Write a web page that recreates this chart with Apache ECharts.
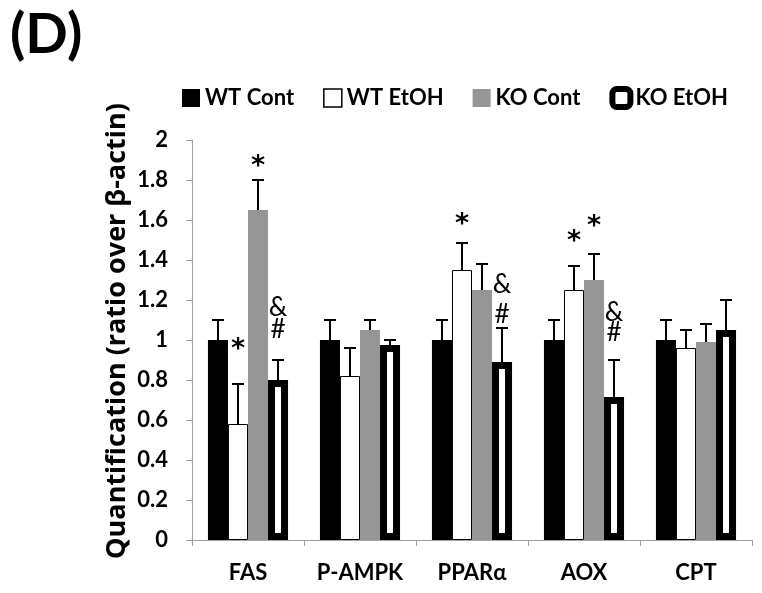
<!DOCTYPE html>
<html>
<head>
<meta charset="utf-8">
<script src="https://cdn.jsdelivr.net/npm/echarts@6/dist/echarts.min.js"></script>
<style>html,body{margin:0;padding:0;background:#fff}#c{width:762px;height:593px}</style>
</head>
<body>
<div id="c"></div>
<script>
const categories = ['FAS', 'P-AMPK', 'PPARα', 'AOX', 'CPT'];
const seriesNames = ['WT Cont', 'WT EtOH', 'KO Cont', 'KO EtOH'];
const wtCont = [1.0, 1.0, 1.0, 1.0, 1.0];
const wtContErr = [0.10, 0.10, 0.10, 0.10, 0.10];
const wtEtoh = [0.58, 0.82, 1.35, 1.25, 0.96];
const wtEtohErr = [0.20, 0.14, 0.135, 0.12, 0.09];
const koCont = [1.65, 1.05, 1.25, 1.30, 0.99];
const koContErr = [0.15, 0.05, 0.13, 0.13, 0.09];
const koEtoh = [0.80, 0.975, 0.89, 0.715, 1.05];
const koEtohErr = [0.10, 0.025, 0.17, 0.185, 0.15];
const yTicks = [0, 0.2, 0.4, 0.6, 0.8, 1, 1.2, 1.4, 1.6, 1.8, 2];
// annotations: [category index, series index, y value, mark]
const annCat = [0, 0, 0, 0, 2, 2, 2, 3, 3, 3, 3];
const annSer = [1, 2, 3, 3, 1, 3, 3, 1, 2, 3, 3];
const annY = [0.985, 1.90, 1.16, 1.05, 1.61, 1.275, 1.125, 1.525, 1.60, 1.135, 1.035];
const annText = ['*', '*', '&', '#', '*', '&', '#', '*', '*', '&', '#'];

const GAP = 0.285;
const values = [wtCont, wtEtoh, koCont, koEtoh];
const errs = [wtContErr, wtEtohErr, koContErr, koEtohErr];
const errData = [];
values.forEach((arr, si) => arr.forEach((v, ci) => errData.push([ci, si, v, errs[si][ci]])));
const annData = annCat.map((c, i) => [c, annSer[i], annY[i], annText[i]]);

const FONT = 'Lato';
const styles = [
  {color: '#000000'},
  {color: '#ffffff', borderColor: '#000000', borderWidth: 1},
  {color: '#969696'},
  {color: '#ffffff', borderColor: '#000000', borderWidth: 7}
];
const legendStyles = [
  {color: '#000000'},
  {color: '#ffffff', borderColor: '#000000', borderWidth: 1.5},
  {color: '#969696'},
  {color: '#ffffff', borderColor: '#000000', borderWidth: 6}
];

function barX(api, cat, si) {
  const band = api.size([1, 0])[0];
  const bw = band * (1 - GAP) / 4;
  return api.coord([cat, 0])[0] + (si - 1.5) * bw;
}

const chart = echarts.init(document.getElementById('c'), null, {renderer: 'canvas'});
const option = {
  animation: false,
  backgroundColor: '#ffffff',
  textStyle: {fontFamily: FONT},
  title: {
    text: '(D)', left: 5, top: 2,
    textStyle: {fontFamily: FONT, fontWeight: 'bold', fontSize: 56, color: '#000'}
  },
  legend: {
    left: 177, top: 81,
    itemWidth: 18, itemHeight: 18, itemGap: 29,
    textStyle: {fontFamily: FONT, fontWeight: 'bold', fontSize: 22, color: '#000'},
    data: seriesNames.map((n, i) => ({
      name: n,
      icon: i === 3 ? 'roundRect' : 'rect',
      itemStyle: legendStyles[i]
    }))
  },
  grid: {left: 192, right: 10, top: 140, bottom: 53, containLabel: false},
  xAxis: {
    type: 'category', data: categories,
    axisLine: {lineStyle: {color: '#a0a0a0', width: 1}},
    axisTick: {show: true, length: 6, lineStyle: {color: '#a0a0a0'}},
    axisLabel: {interval: 0, margin: 22, fontFamily: FONT, fontWeight: 'bold', fontSize: 22, color: '#000'}
  },
  yAxis: {
    type: 'value', min: 0, max: 2, interval: 0.2,
    axisLine: {show: true, lineStyle: {color: '#a0a0a0', width: 1}},
    axisTick: {show: true, length: 6, lineStyle: {color: '#a0a0a0'}},
    splitLine: {show: false},
    axisLabel: {
      margin: 24, fontFamily: FONT, fontWeight: 'bold', fontSize: 22, color: '#000',
      formatter: v => String(parseFloat(v.toFixed(1)))
    }
  },
  graphic: [{
    type: 'text', x: 117, y: 331, rotation: Math.PI / 2,
    style: {
      text: 'Quantification (ratio over β-actin)',
      font: 'bold 27px "Open Sans"', fill: '#000', align: 'center', verticalAlign: 'middle'
    }
  }],
  series: seriesNames.map((n, i) => ({
    name: n, type: 'bar', data: values[i],
    barGap: '0%', barCategoryGap: (GAP * 100) + '%',
    itemStyle: styles[i]
  })).concat([{
    type: 'custom', name: 'err', data: errData,
    encode: {x: 0, y: 2}, z: 5,
    renderItem: function (params, api) {
      const cat = api.value(0), si = api.value(1), v = api.value(2), e = api.value(3);
      const x = barX(api, cat, si);
      const y0 = api.coord([cat, v])[1];
      const y1 = api.coord([cat, v + e])[1];
      return {type: 'group', children: [
        {type: 'line', shape: {x1: x, y1: y0, x2: x, y2: y1}, style: {stroke: '#000', lineWidth: 2}},
        {type: 'line', shape: {x1: x - 6, y1: y1, x2: x + 6, y2: y1}, style: {stroke: '#000', lineWidth: 2}}
      ]};
    }
  }, {
    type: 'custom', name: 'ann', data: annData,
    encode: {x: 0, y: 2}, z: 6,
    renderItem: function (params, api) {
      const cat = api.value(0), si = api.value(1), yv = api.value(2);
      const t = annData[params.dataIndex][3];
      const x = barX(api, cat, si);
      const y = api.coord([cat, yv])[1];
      return {type: 'text', x: x, y: y + (t === '*' ? 7 : 0), style: {
        text: t, font: (t === '*' ? 'bold 27px "DejaVu Sans"' : '26px Lato'), fill: '#000',
        align: 'center', verticalAlign: 'middle'
      }};
    }
  }])
};
chart.setOption(option);
</script>
</body>
</html>
